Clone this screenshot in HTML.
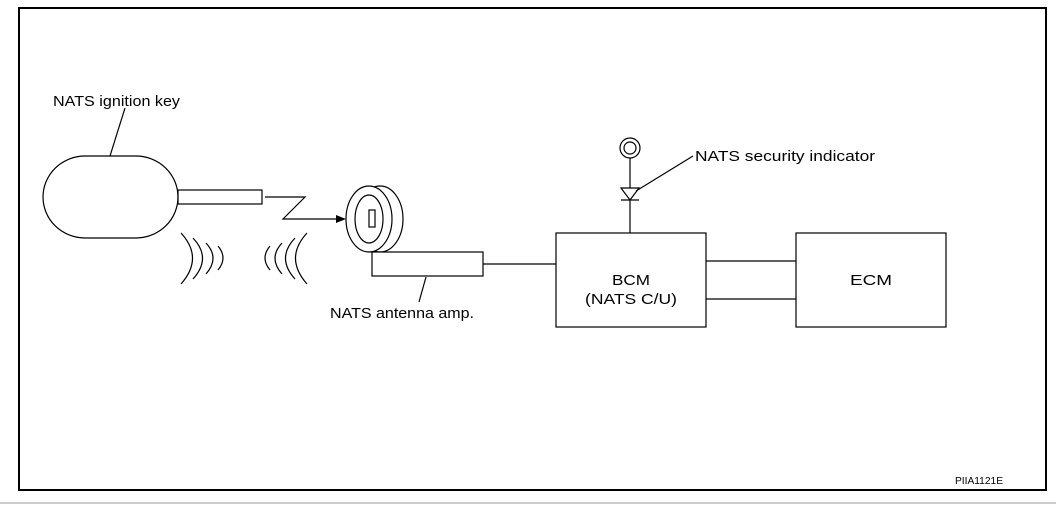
<!DOCTYPE html>
<html><head><style>
html,body{margin:0;padding:0;background:#fff;}
svg{display:block;font-family:"Liberation Sans",Arial,sans-serif;}
</style></head><body>
<svg width="1056" height="505" viewBox="0 0 1056 505">
<rect x="19" y="8" width="1027" height="482" fill="none" stroke="#000" stroke-width="2"/>
<line x1="0" y1="503" x2="1056" y2="503" stroke="#999" stroke-width="1"/>
<g fill="none" stroke="#000" stroke-width="1.2">
<path d="M85,156 H136 A42,41 0 0 1 136,238 H85 A42,41 0 0 1 85,156 Z"/>
<rect x="178" y="190" width="84" height="14"/>
<line x1="110" y1="156" x2="125" y2="108"/>
<polyline points="265,197 305,197 283,219 336,219"/>
<path d="M181,233 Q204,258 181,284"/>
<path d="M193,238 Q212,258 193,279"/>
<path d="M206,243 Q220,258 206,274"/>
<path d="M218,246 Q228,258 218,270"/>
<path d="M307,233 Q284,258 307,284"/>
<path d="M295,238 Q276,258 295,279"/>
<path d="M282,243 Q268,258 282,274"/>
<path d="M270,246 Q260,258 270,270"/>
<ellipse cx="380" cy="219" rx="23" ry="33"/>
<ellipse cx="369" cy="219" rx="23" ry="33" fill="#fff"/>
<ellipse cx="369" cy="219" rx="14" ry="24"/>
<rect x="369" y="210" width="6" height="17"/>
<rect x="372" y="252" width="111" height="24" fill="#fff"/>
<line x1="483" y1="264" x2="556" y2="264"/>
<line x1="426" y1="277" x2="419" y2="302"/>
<rect x="556" y="233" width="150" height="94"/>
<rect x="796" y="233" width="150" height="94"/>
<line x1="706" y1="261" x2="796" y2="261"/>
<line x1="706" y1="299" x2="796" y2="299"/>
<circle cx="630" cy="148" r="10"/>
<circle cx="630" cy="148" r="6"/>
<line x1="630" y1="158" x2="630" y2="233"/>
<polygon points="621,188 639,188 630,200" fill="#fff"/>
<line x1="621" y1="200" x2="639" y2="200"/>
<line x1="636" y1="191" x2="693" y2="156"/>
</g>
<polygon points="336,215 346,219 336,223" fill="#000"/>
<g font-size="15" fill="#000">
<text x="53" y="106" textLength="127" lengthAdjust="spacingAndGlyphs">NATS ignition key</text>
<text x="330" y="318" textLength="144" lengthAdjust="spacingAndGlyphs">NATS antenna amp.</text>
<text x="695" y="161" textLength="180" lengthAdjust="spacingAndGlyphs">NATS security indicator</text>
<text x="612" y="285" textLength="38" lengthAdjust="spacingAndGlyphs">BCM</text>
<text x="585" y="304" textLength="92" lengthAdjust="spacingAndGlyphs">(NATS C/U)</text>
<text x="850" y="285" textLength="42" lengthAdjust="spacingAndGlyphs">ECM</text>
</g>
<text x="955" y="484" font-size="10" fill="#000" textLength="48" lengthAdjust="spacingAndGlyphs">PIIA1121E</text>
</svg>
</body></html>
